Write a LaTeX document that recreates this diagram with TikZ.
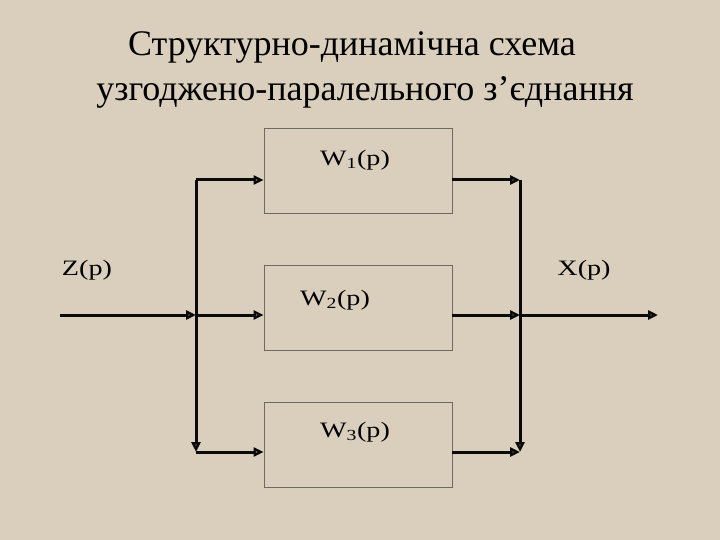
\documentclass[tikz,border=0pt]{standalone}
\usepackage{fontspec}
\setmainfont{Liberation Serif}
\newfontfamily\sigfont[FakeStretch=1.28]{Liberation Serif}
\usetikzlibrary{positioning,arrows.meta}
\definecolor{slideBg}{HTML}{D9CFBC}
\definecolor{boxEdge}{HTML}{6E6A62}
\definecolor{lineInk}{HTML}{0A0A0A}
\newcommand{\wbox}[2]{%
 \node[draw=boxEdge, line width=0.7pt, minimum width=188pt, minimum height=85pt, inner sep=0pt] (#1) at (358,#2) {};%
}
\begin{document}
\begin{tikzpicture}[x=1pt, y=-1pt,
  flow/.style={-{Triangle[open, length=10pt, width=9pt]}, line width=3pt, lineInk},
  sig/.style={font=\sigfont\fontsize{22}{25}\selectfont, inner sep=0pt}]
\path[fill=slideBg] (0,0) rectangle (720,540);
% title
\node[font=\fontsize{36}{42}\selectfont, inner sep=0pt, anchor=base] (t1) at (352,56) {Структурно-динамічна схема};
\node[font=\fontsize{36}{42}\selectfont, inner sep=0pt, anchor=base] (t2) at (365,101) {узгоджено-паралельного з’єднання};
% blocks
\wbox{b1}{170.5}
\wbox{b2}{307.5}
\wbox{b3}{444.5}
\node[sig] (w1) at (355,160) {W\textsubscript{1}(p)};
\node[sig] (w2) at (335,300) {W\textsubscript{2}(p)};
\node[sig] (w3) at (355,432) {W\textsubscript{3}(p)};
\node[sig] (zlab) at (87,270) {Z(p)};
\node[sig] (xlab) at (584,270) {X(p)};
% junctions
\coordinate (zin) at (60,315);
\coordinate (jl1) at (196,180);
\coordinate (jl2) at (196,315);
\coordinate (jl3) at (196,452);
\coordinate (jr1) at (520,180);
\coordinate (jr2) at (520,315);
\coordinate (jr3) at (520,452);
\coordinate (xout) at (658,315);
% left branch
\draw[flow] (zin) -- (jl2);
\draw[flow] (jl1) -- (jl3);
\draw[flow] (jl1) -- (b1.west |- jl1);
\draw[flow] (jl2) -- (b2.west |- jl2);
\draw[flow] (jl3) -- (b3.west |- jl3);
% right branch
\draw[flow] (b1.east |- jr1) -- (jr1);
\draw[flow] (b2.east |- jr2) -- (jr2);
\draw[flow] (b3.east |- jr3) -- (jr3);
\draw[flow] (jr1) -- (jr3);
\draw[flow] (jr2) -- (xout);
\end{tikzpicture}
\end{document}
